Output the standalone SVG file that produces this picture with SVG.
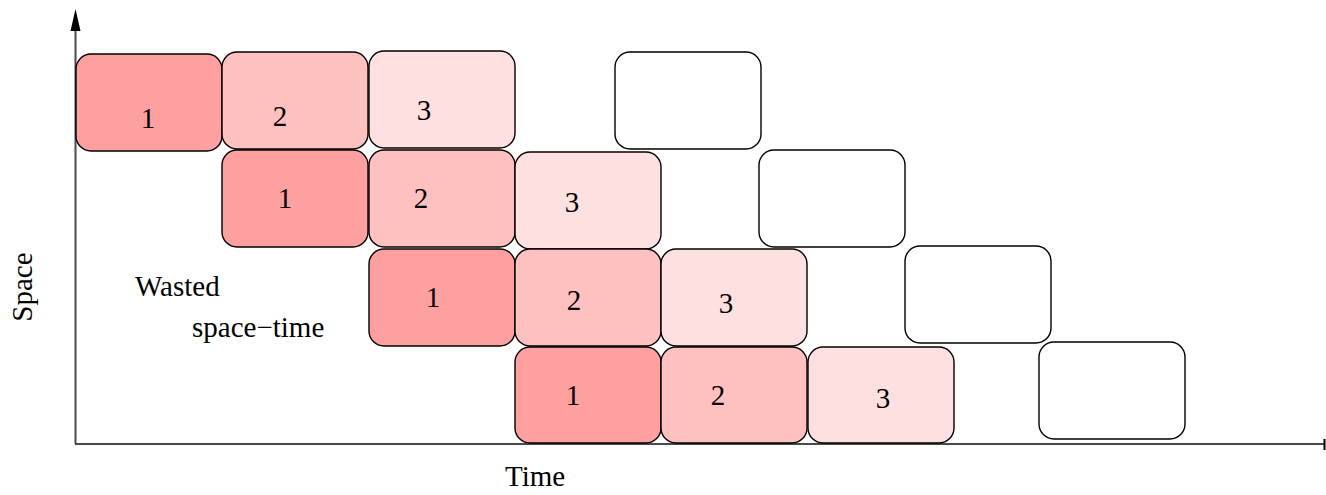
<svg xmlns="http://www.w3.org/2000/svg" width="1326" height="495" viewBox="0 0 1326 495">
<style>
.b{stroke:#000;stroke-width:1.4}
.c1{fill:#ffa0a0}.c2{fill:#ffc0c0}.c3{fill:#ffe0e0}.c0{fill:#fff}
text{font-family:"Liberation Serif","Times New Roman",serif;font-size:29px;fill:#000}
.m{text-anchor:middle}
.ax{stroke:#4a4a4a;stroke-width:2;fill:none}
</style>
<rect width="1326" height="495" fill="#fff"/>
<g id="axes">
<line class="ax" x1="75.5" y1="444" x2="75.5" y2="26"/>
<polygon points="75.5,9 70.5,31 80.5,31" fill="#000"/>
<line class="ax" x1="75" y1="444" x2="1324" y2="444"/>
<line x1="1324.5" y1="439" x2="1324.5" y2="450" stroke="#000" stroke-width="2"/>
</g>
<g id="r1b1"><rect class="b c1" x="76" y="54" width="146" height="97" rx="15"/><text class="m" x="148" y="128">1</text></g>
<g id="r1b2"><rect class="b c2" x="222" y="52" width="146" height="97" rx="15"/><text class="m" x="280" y="126">2</text></g>
<g id="r1b3"><rect class="b c3" x="369" y="51" width="146" height="97" rx="15"/><text class="m" x="424" y="120">3</text></g>
<g id="r1b4"><rect class="b c0" x="615" y="52" width="146" height="97" rx="15"/></g>
<g id="r2b1"><rect class="b c1" x="222" y="150" width="146" height="97" rx="15"/><text class="m" x="285" y="208">1</text></g>
<g id="r2b2"><rect class="b c2" x="369" y="150" width="146" height="97" rx="15"/><text class="m" x="421" y="208">2</text></g>
<g id="r2b3"><rect class="b c3" x="515" y="152" width="146" height="97" rx="15"/><text class="m" x="572" y="212">3</text></g>
<g id="r2b4"><rect class="b c0" x="759" y="150" width="146" height="97" rx="15"/></g>
<g id="r3b1"><rect class="b c1" x="369" y="249" width="146" height="97" rx="15"/><text class="m" x="433" y="307">1</text></g>
<g id="r3b2"><rect class="b c2" x="515" y="249" width="146" height="97" rx="15"/><text class="m" x="574" y="310">2</text></g>
<g id="r3b3"><rect class="b c3" x="661" y="249" width="146" height="97" rx="15"/><text class="m" x="726" y="313">3</text></g>
<g id="r3b4"><rect class="b c0" x="905" y="246" width="146" height="97" rx="15"/></g>
<g id="r4b1"><rect class="b c1" x="515" y="347" width="146" height="96" rx="15"/><text class="m" x="573" y="405">1</text></g>
<g id="r4b2"><rect class="b c2" x="661" y="347" width="146" height="96" rx="15"/><text class="m" x="718" y="405">2</text></g>
<g id="r4b3"><rect class="b c3" x="808" y="347" width="146" height="96" rx="15"/><text class="m" x="883" y="408">3</text></g>
<g id="r4b4"><rect class="b c0" x="1039" y="342" width="146" height="97" rx="15"/></g>
<g id="labels">
<text x="135" y="296">Wasted</text>
<text x="192" y="337">space−time</text>
<text x="505" y="486">Time</text>
<text class="m" transform="translate(32,287) rotate(-90)">Space</text>
</g>
</svg>
